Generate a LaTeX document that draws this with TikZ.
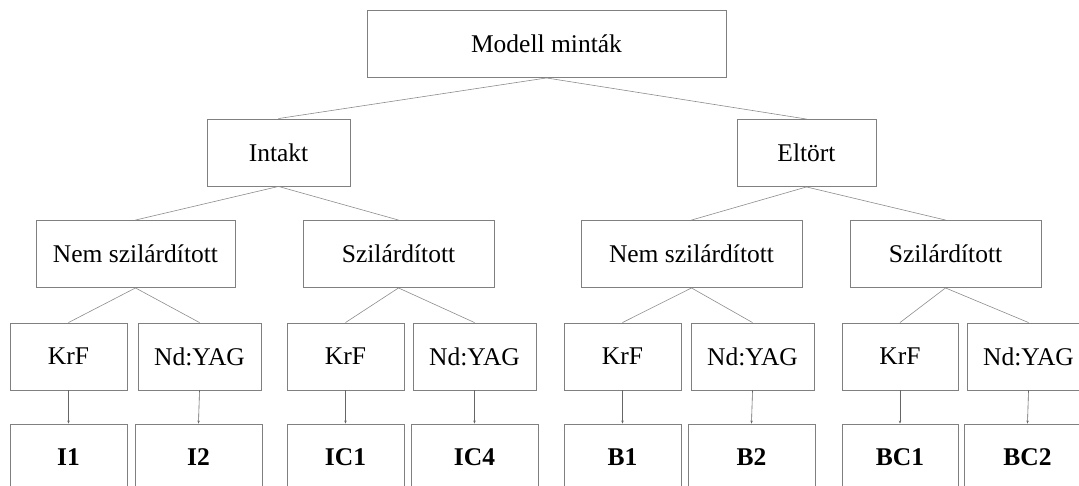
\documentclass[tikz,border=0pt]{standalone}
\usepackage{fontspec}
\setmainfont{Liberation Serif}
\usetikzlibrary{arrows.meta}
\tikzset{box/.style={rectangle,draw=black!50,line width=0.9pt,minimum width=#1,minimum height=67pt,inner sep=0pt}}
\tikzset{link/.style={draw=black!45,line width=0.6pt}}
\tikzset{arr/.style={draw=black!60,line width=0.6pt,-{Stealth[length=3pt,width=2.5pt]}}}

\begin{document}
\begin{tikzpicture}[x=1pt,y=-1pt,font=\fontsize{25.5}{30}\selectfont]
      \useasboundingbox (0,0) rectangle (1079,486);
      \clip (0,0) rectangle (1079,486);
      \node[box=359pt] (MM) at (546.5,44) {Modell minták};
      \node[box=143pt] (IN) at (278.5,152.5) {Intakt};
      \node[box=139pt] (EL) at (806.5,153) {Eltört};
      \node[box=199pt] (NS1) at (135.5,254) {Nem szilárdított};
      \node[box=191pt] (SZ1) at (398.5,254) {Szilárdított};
      \node[box=221pt] (NS2) at (691.5,254) {Nem szilárdított};
      \node[box=191pt] (SZ2) at (945.5,254) {Szilárdított};
      \node[box=117pt] (K1) at (68.5,356.5) {KrF};
      \node[box=123pt] (N1) at (199.5,356.5) {Nd:YAG};
      \node[box=117pt] (K2) at (345.5,356.5) {KrF};
      \node[box=123pt] (N2) at (474.5,356.5) {Nd:YAG};
      \node[box=117pt] (K3) at (622.5,356.5) {KrF};
      \node[box=123pt] (N3) at (752.5,356.5) {Nd:YAG};
      \node[box=116pt] (K4) at (900,356.5) {KrF};
      \node[box=123pt] (N4) at (1028.5,356.5) {Nd:YAG};
      \node[box=117pt] (I1) at (68.5,457.5) {\textbf{I1}};
      \node[box=127pt] (I2) at (198.5,457.5) {\textbf{I2}};
      \node[box=117pt] (IC1) at (345.5,457.5) {\textbf{IC1}};
      \node[box=127pt] (IC4) at (474.5,457.5) {\textbf{IC4}};
      \node[box=117pt] (B1) at (622.5,457.5) {\textbf{B1}};
      \node[box=127pt] (B2) at (751.5,457.5) {\textbf{B2}};
      \node[box=116pt] (BC1) at (900,457.5) {\textbf{BC1}};
      \node[box=127pt] (BC2) at (1027.5,457.5) {\textbf{BC2}};
      \foreach \a/\b in {MM/IN,MM/EL,IN/NS1,IN/SZ1,EL/NS2,EL/SZ2,NS1/K1,NS1/N1,SZ1/K2,SZ1/N2,NS2/K3,NS2/N3,SZ2/K4,SZ2/N4}
        \draw[link] (\a.south) -- (\b.north);
      \foreach \a/\b in {K1/I1,N1/I2,K2/IC1,N2/IC4,K3/B1,N3/B2,K4/BC1,N4/BC2}
        \draw[arr] (\a.south) -- (\b.north);
    \end{tikzpicture}
\end{document}
